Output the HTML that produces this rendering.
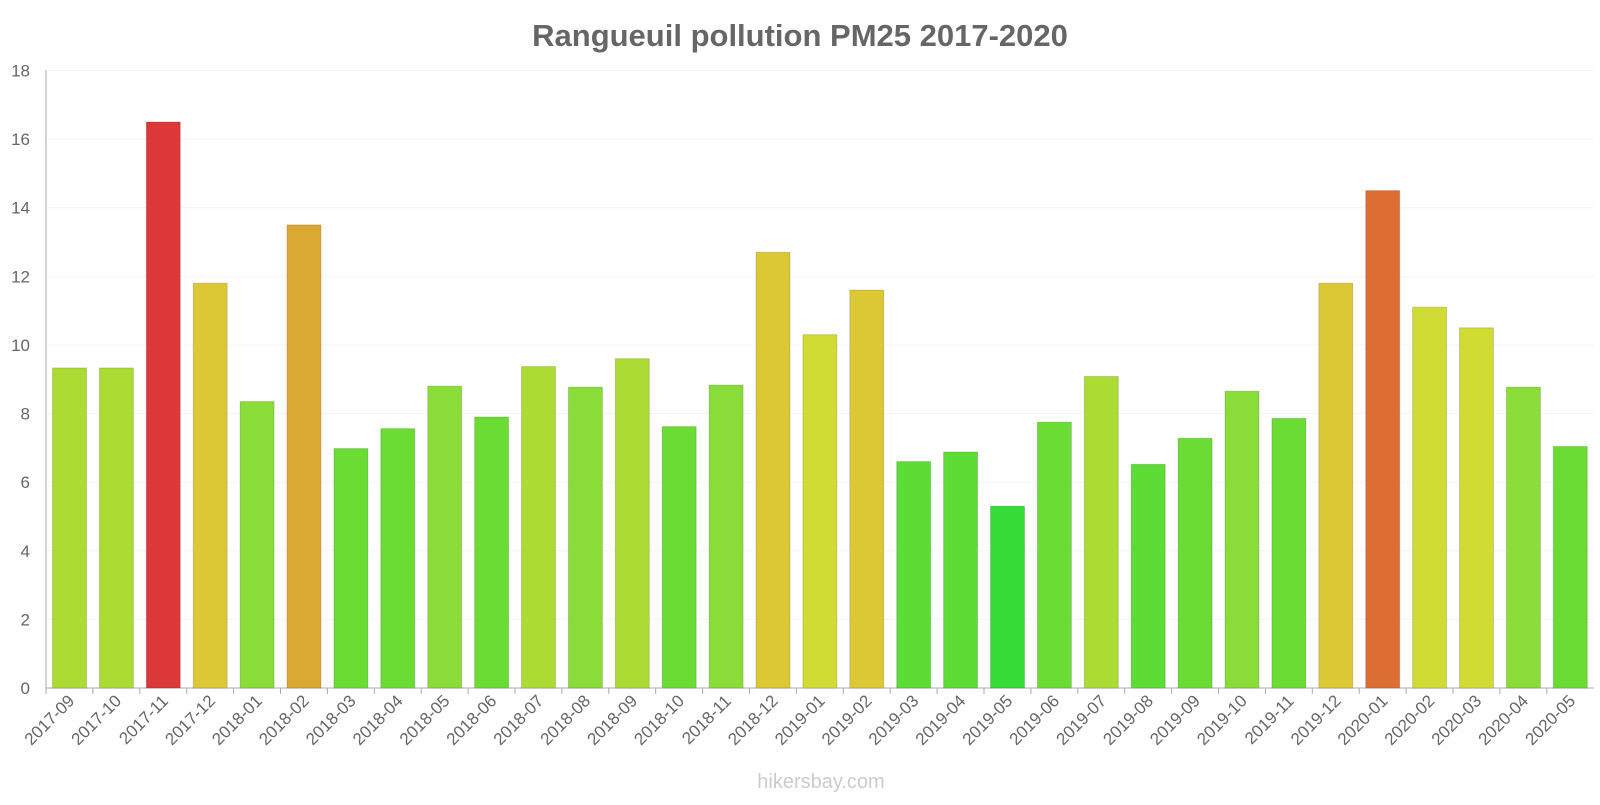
<!DOCTYPE html>
<html><head><meta charset="utf-8"><style>
body{margin:0;background:#fff;}
svg text{font-family:"Liberation Sans",sans-serif;}
</style></head><body>
<svg width="1600" height="800" xmlns="http://www.w3.org/2000/svg" id="s">
<text x="800" y="46" text-anchor="middle" font-size="31" font-weight="bold" fill="#666">Rangueuil pollution PM25 2017-2020</text>
<g id="g"></g>
<text x="821" y="788" text-anchor="middle" font-size="20" fill="#ccc">hikersbay.com</text>
</svg>
<script>
const vals=[9.33,9.33,16.5,11.8,8.35,13.5,6.98,7.56,8.8,7.9,9.37,8.77,9.6,7.62,8.83,12.7,10.3,11.6,6.6,6.88,5.3,7.75,9.08,6.52,7.28,8.65,7.86,11.8,14.5,11.1,10.5,8.77,7.04];
const labs=[];let y=2017,m=9;for(let i=0;i<33;i++){labs.push(y+"-"+String(m).padStart(2,"0"));m++;if(m>12){m=1;y++;}}
function col(v){
 if(v>=16)return"#dc3838";if(v>=14)return"#dc6e34";if(v>=13)return"#dca834";if(v>=11.5)return"#dcc834";
 if(v>=10)return"#d0dc34";if(v>=9)return"#acdc34";if(v>=8.2)return"#8adc38";if(v>=6.9)return"#6adc34";if(v>=6)return"#5cdc34";return"#38dc38";}
let h="";const y0=688,k=617.5/18,x0=46,p=46.9,xe=1594;
for(let t=0;t<=18;t+=2){const yy=y0-t*k;h+=`<line x1="${x0}" x2="${xe}" y1="${yy}" y2="${yy}" stroke="#f4f4f4"/>`;
h+=`<text x="30" y="${yy+6}" text-anchor="end" font-size="17" fill="#666">${t}</text>`;}
h+=`<line x1="${x0}" x2="${x0}" y1="70" y2="${y0}" stroke="#aaa"/><line x1="${x0}" x2="${xe}" y1="${y0}" y2="${y0}" stroke="#aaa"/>`;
vals.forEach((v,i)=>{const x=x0+i*p+6.5,hh=v*k,c=col(v);
h+=`<rect x="${x}" y="${y0-hh}" width="34" height="${hh}" fill="${c}" stroke="rgba(0,0,0,0.15)" stroke-width="1"/>`;
const cx=x0+i*p+p/2;h+=`<line x1="${x0+i*p}" x2="${x0+i*p}" y1="${y0}" y2="${y0+6}" stroke="#aaa"/>`;
h+=`<text transform="translate(${cx+6},${y0+14}) rotate(-45)" text-anchor="end" font-size="17" fill="#666">${labs[i]}</text>`;});
document.getElementById("g").innerHTML=h;
</script>
</body></html>
